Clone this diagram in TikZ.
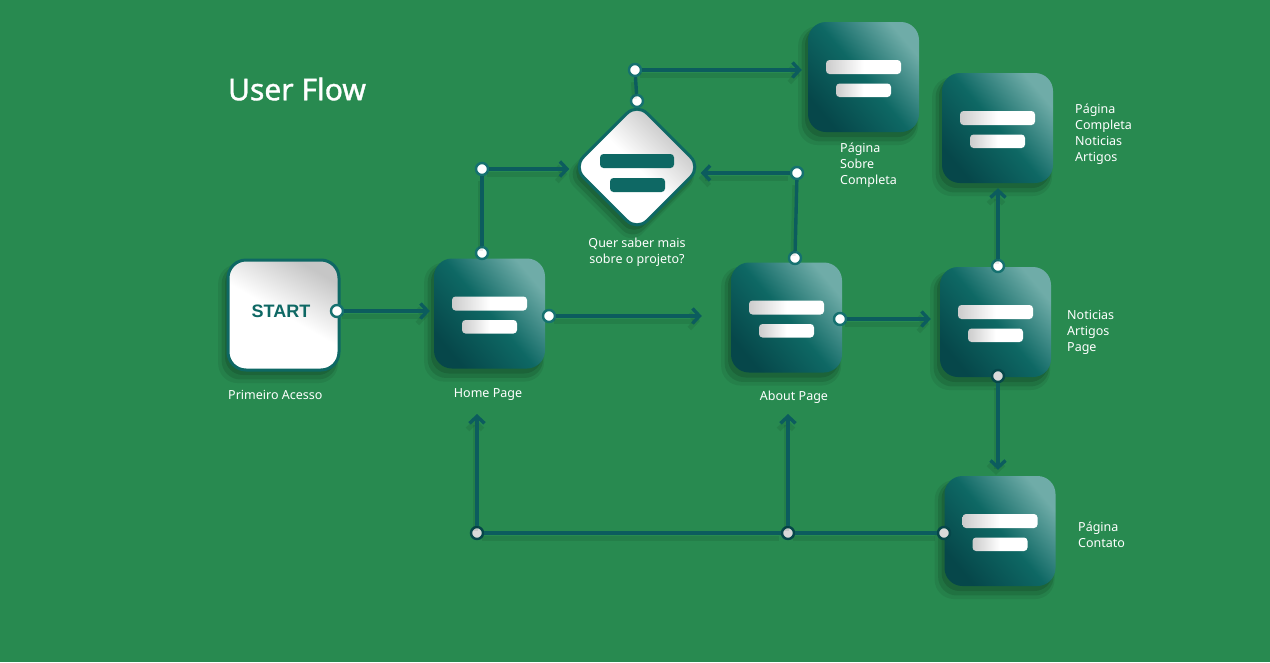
\documentclass[tikz,border=0pt]{standalone}
\usepackage{fontspec}
\setmainfont{Noto Sans}
\newfontfamily\titlefont{Noto Sans}[FakeBold=1.3]
\newfontfamily\startfont{Liberation Sans}
\usetikzlibrary{arrows.meta,shadows,calc}
\definecolor{bg}{HTML}{288A50}
\definecolor{tealD}{HTML}{06474A}
\definecolor{tealM}{HTML}{0E6864}
\definecolor{tealL}{HTML}{6FACA8}
\definecolor{lineC}{HTML}{0C5C5E}
\definecolor{portC}{HTML}{157170}
\tikzset{
  softshadow/.style={
    drop shadow={shadow xshift=-3pt, shadow yshift=-5pt, opacity=0.12, fill=black, shadow scale=1.0},
    drop shadow={shadow xshift=-4pt, shadow yshift=-7pt, opacity=0.10, fill=black, shadow scale=1.04},
    drop shadow={shadow xshift=-5pt, shadow yshift=-8pt, opacity=0.07, fill=black, shadow scale=1.08}},
  pagebox/.style={rounded corners=18pt, minimum width=111pt, minimum height=110pt, inner sep=0pt,
    top color=tealL, bottom color=tealD, middle color=tealM, shading angle=-50, softshadow},
  startbox/.style={rounded corners=18pt, minimum width=111pt, minimum height=110pt, inner sep=0pt,
    draw=tealM, line width=3pt, left color=gray!45, right color=white, middle color=white, shading angle=-30, softshadow},
  diabox/.style={rounded corners=14pt, minimum width=90pt, minimum height=90pt, inner sep=0pt, rotate=45,
    draw=tealM, line width=3pt, left color=gray!55, right color=white, middle color=white, shading angle=-45, softshadow},
  bar/.style={rounded corners=3.5pt, left color=gray!40, right color=white, middle color=white},
  dbar/.style={rounded corners=3.5pt, fill=tealM},
  port/.style={circle, draw=portC, line width=2.4pt, fill=white, inner sep=0pt, minimum size=12pt},
  gport/.style={port, fill=gray!30, draw=tealD},
  link/.style={draw=lineC, line width=3.4pt,
    preaction={draw=black, opacity=0.08, line width=5pt, transform canvas={xshift=-2pt, yshift=-5pt}}},
  arr/.style={link, -{Straight Barb[length=7pt, width=15pt]}},
  lbl/.style={text=white, font=\fontsize{12.5}{16}\selectfont, align=left, inner sep=0pt},
}
\begin{document}
\begin{tikzpicture}[x=1pt, y=-1pt]
\fill[bg] (0,0) rectangle (1270,662);
\useasboundingbox (0,0) rectangle (1270,662);

% title
\node[text=white, font=\titlefont\fontsize{30}{34}\selectfont, inner sep=0pt] (title) at (297,89) {User Flow};

% boxes
\node[startbox] (start) at (283.5,315) {};
\node[text=tealM, font=\startfont\bfseries\fontsize{18}{20}\selectfont, inner sep=0pt] (starttxt) at (281,311) {START};
\node[pagebox] (home) at (489.5,313.5) {};
\node[diabox] (dia) at (637,167) {};
\node[pagebox] (sobre) at (863.5,77) {};
\node[pagebox] (completa) at (997.5,128) {};
\node[pagebox] (about) at (786.5,317.5) {};
\node[pagebox] (noticias) at (995.5,322) {};
\node[pagebox] (contato) at (1000,531) {};

% bars
\foreach \n in {home,sobre,completa,about,noticias,contato}{
  \path[bar] ($(\n.center)+(-37.5,-17)$) rectangle ++(75,14);
  \path[bar] ($(\n.center)+(-27.5,6.5)$) rectangle ++(55,13.5);
}
\path[dbar] ($(dia.center)+(-37,-13)$) rectangle ++(74,14);
\path[dbar] ($(dia.center)+(-27,11)$) rectangle ++(55,14);

% ports
\node[port] (pStart) at (337,311) {};
\node[port] (pHomeT) at (482,253) {};
\node[port] (pHomeTL) at (482,169) {};
\node[port] (pHomeR) at (549,316) {};
\node[port] (pDiaT) at (637,101) {};
\node[port] (pDiaTT) at (635,70) {};
\node[port] (pAboutT) at (795,258) {};
\node[port] (pAboutTR) at (797,173) {};
\node[port] (pAboutR) at (840,319) {};
\node[port] (pNotT) at (998,266) {};
\node[gport] (pNotB) at (998,376) {};
\node[gport] (pCont) at (944,533) {};
\node[gport] (pJ2) at (788,533) {};
\node[gport] (pJ1) at (477,533) {};

% connectors
\draw[arr, shorten >=4pt] (pStart) -- (pStart -| home.west);
\draw[link] (pHomeT) -- (pHomeTL);
\draw[arr, shorten >=2pt] (pHomeTL) -- (pHomeTL -| dia.north west);
\draw[arr, shorten >=29pt] (pHomeR) -- (pHomeR -| about.west);
\draw[link] (pDiaT) -- (pDiaTT);
\draw[arr, shorten >=6pt] (pDiaTT) -- (pDiaTT -| sobre.west);
\draw[link] (pAboutT) -- (pAboutTR);
\draw[arr, shorten >=-2pt] (pAboutTR) -- (pAboutTR -| dia.south east);
\draw[arr, shorten >=9pt] (pAboutR) -- (pAboutR -| noticias.west);
\draw[arr, shorten >=5pt] (pNotT) -- (pNotT |- completa.south);
\draw[arr, shorten >=6pt] (pNotB) -- (pNotB |- contato.north);
\draw[link] (pCont) -- (pJ2);
\draw[link] (pJ2) -- (pJ1);
\coordinate (upHome) at (477,414);
\coordinate (upAbout) at (788,414);
\draw[arr] (pJ1) -- (upHome);
\draw[arr] (pJ2) -- (upAbout);

% labels
\node[lbl, anchor=west] (lStart) at (228,395) {Primeiro Acesso};
\node[lbl] (lHome) at (488,395) {Home Page};
\node[lbl, align=center] (lDia) at (637,252) {Quer saber mais\\sobre o projeto?};
\node[lbl, anchor=west] (lSobre) at (840,165) {Página\\Sobre\\Completa};
\node[lbl, anchor=west] (lCompleta) at (1075,134.5) {Página\\Completa\\Noticias\\Artigos};
\node[lbl] (lAbout) at (794,397) {About Page};
\node[lbl, anchor=west] (lNot) at (1067,332) {Noticias\\Artigos\\Page};
\node[lbl, anchor=west] (lCont) at (1078,535) {Página\\Contato};
\end{tikzpicture}
\end{document}
